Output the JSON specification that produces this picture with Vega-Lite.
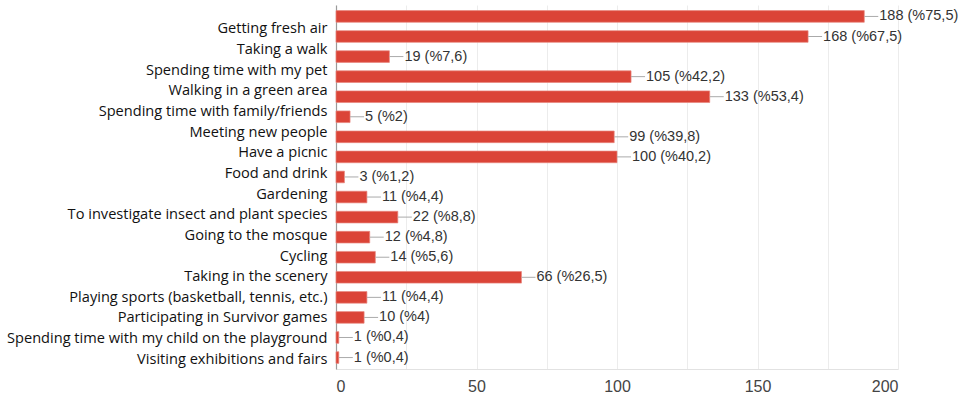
{
  "$schema": "https://vega.github.io/schema/vega-lite/v6.json",
  "autosize": {"type": "none"},
  "width": 562,
  "height": 364,
  "padding": {"left": 336, "top": 5, "right": 67, "bottom": 27},
  "background": "white",
  "config": {"view": {"stroke": null}},
  "datasets": {
    "bars": [
      {"bar": 1, "count": 188, "label": "188 (%75,5)"},
      {"bar": 2, "count": 168, "label": "168 (%67,5)"},
      {"bar": 3, "count": 19, "label": "19 (%7,6)"},
      {"bar": 4, "count": 105, "label": "105 (%42,2)"},
      {"bar": 5, "count": 133, "label": "133 (%53,4)"},
      {"bar": 6, "count": 5, "label": "5 (%2)"},
      {"bar": 7, "count": 99, "label": "99 (%39,8)"},
      {"bar": 8, "count": 100, "label": "100 (%40,2)"},
      {"bar": 9, "count": 3, "label": "3 (%1,2)"},
      {"bar": 10, "count": 11, "label": "11 (%4,4)"},
      {"bar": 11, "count": 22, "label": "22 (%8,8)"},
      {"bar": 12, "count": 12, "label": "12 (%4,8)"},
      {"bar": 13, "count": 14, "label": "14 (%5,6)"},
      {"bar": 14, "count": 66, "label": "66 (%26,5)"},
      {"bar": 15, "count": 11, "label": "11 (%4,4)"},
      {"bar": 16, "count": 10, "label": "10 (%4)"},
      {"bar": 17, "count": 1, "label": "1 (%0,4)"},
      {"bar": 18, "count": 1, "label": "1 (%0,4)"}
    ],
    "labels": [
      {"activity": "Getting fresh air"},
      {"activity": "Taking a walk"},
      {"activity": "Spending time with my pet"},
      {"activity": "Walking in a green area"},
      {"activity": "Spending time with family/friends"},
      {"activity": "Meeting new people"},
      {"activity": "Have a picnic"},
      {"activity": "Food and drink"},
      {"activity": "Gardening"},
      {"activity": "To investigate insect and plant species"},
      {"activity": "Going to the mosque"},
      {"activity": "Cycling"},
      {"activity": "Taking in the scenery"},
      {"activity": "Playing sports (basketball, tennis, etc.)"},
      {"activity": "Participating in Survivor games"},
      {"activity": "Spending time with my child on the playground"},
      {"activity": "Visiting exhibitions and fairs"}
    ]
  },
  "resolve": {"scale": {"y": "independent"}, "axis": {"y": "independent"}},
  "layer": [
    {
      "data": {"name": "labels"},
      "mark": {"type": "point", "opacity": 0},
      "encoding": {
        "y": {"field": "activity", "type": "nominal", "sort": null,
          "scale": {"type": "point", "padding": 0.81, "align": 0.71},
          "axis": {"orient": "left", "title": null, "ticks": false, "domain": true, "domainColor": "#9a9a9a", "domainWidth": 1.2, "labelFont": "Open Sans", "labelFontSize": 14.6, "labelColor": "#111111", "labelPadding": 9, "labelLimit": 340}},
        "x": {"datum": 0, "type": "quantitative",
          "scale": {"domain": [0, 200], "nice": false},
          "axis": {"title": null, "values": [0, 25, 50, 75, 100, 125, 150, 175, 200], "labelExpr": "datum.value % 50 == 0 ? datum.label : ''", "ticks": false, "domain": true, "domainColor": "#e2e2e2", "grid": true, "gridColor": "#ececec", "labelFont": "Liberation Sans", "labelFontSize": 16, "labelColor": "#444444", "labelPadding": 9}}
      }
    },
    {
      "data": {"name": "bars"},
      "encoding": {
        "y": {"field": "bar", "type": "ordinal", "sort": null,
          "scale": {"paddingInner": 0.42, "paddingOuter": 0.28},
          "axis": null},
        "x": {"field": "count", "type": "quantitative"}
      },
      "layer": [
        {"mark": {"type": "bar", "color": "#db4437", "stroke": "#e8877e", "strokeWidth": 0.7}},
        {"mark": {"type": "rule", "color": "#aaaaaa", "x2Offset": 14}, "encoding": {"x2": {"field": "count"}}},
        {"mark": {"type": "text", "align": "left", "dx": 15, "font": "Liberation Sans", "fontSize": 14.5, "color": "#333333"}, "encoding": {"text": {"field": "label"}}}
      ]
    }
  ]
}
